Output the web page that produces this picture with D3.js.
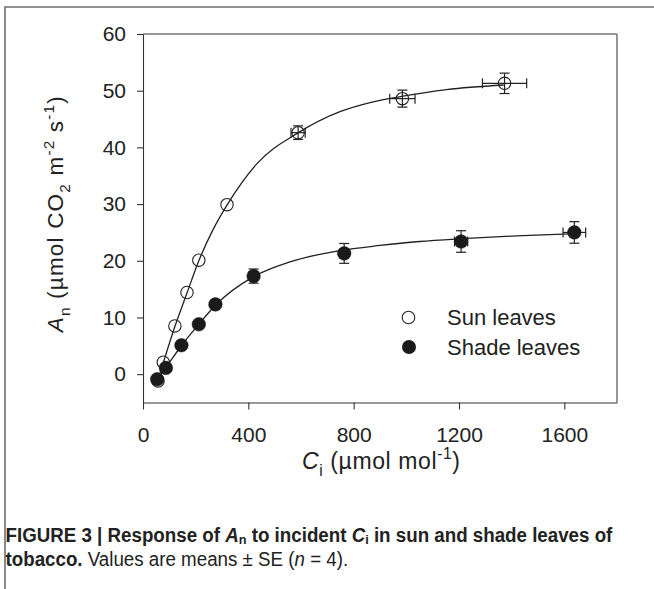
<!DOCTYPE html>
<html>
<head>
<meta charset="utf-8">
<script src="https://cdn.jsdelivr.net/npm/d3@7"></script>
<style>
  html, body { margin: 0; padding: 0; background: #fff; }
  svg { display: block; }
  text { font-family: "Liberation Sans", Arial, sans-serif; fill: #222; }
</style>
</head>
<body>
<script>
// Sun leaves: intercellular CO2 (Ci) and net assimilation (An), means with SE
const sunCi    = [57, 77, 121, 167, 212, 319, 589, 985, 1373];
const sunAn    = [-1.2, 2.1, 8.5, 14.4, 20.1, 29.9, 42.6, 48.6, 51.3];
const sunCiSE  = [0, 0, 0, 0, 0, 0, 27, 48, 84];
const sunAnSE  = [0, 0, 0, 0, 0, 0, 1.2, 1.5, 1.8];

// Shade leaves
const shadeCi   = [54, 87, 146, 212, 275, 420, 764, 1208, 1638];
const shadeAn   = [-0.9, 1.1, 5.1, 8.8, 12.3, 17.3, 21.3, 23.4, 25.0];
const shadeCiSE = [0, 0, 0, 0, 0, 10, 15, 25, 43];
const shadeAnSE = [0, 0, 0, 0, 0, 1.25, 1.75, 1.9, 1.9];

// Fitted response curves
const sunFitCi   = [57, 77, 121, 167, 212, 265, 320, 432, 590, 748, 870, 982, 1153, 1370];
const sunFitAn   = [-1.0, 2.0, 8.4, 14.3, 20.0, 25.4, 29.9, 37.1, 42.6, 46.3, 48.0, 49.0, 50.2, 51.0];
const shadeFitCi = [55, 86, 147, 210, 276, 420, 558, 748, 900, 1050, 1213, 1419, 1644];
const shadeFitAn = [-0.9, 1.1, 5.1, 8.7, 12.2, 17.2, 19.8, 21.8, 22.7, 23.4, 23.9, 24.4, 24.8];

// Axis ticks and labels
const xTicks = [0, 400, 800, 1200, 1600];
const yTicks = [0, 10, 20, 30, 40, 50, 60];
const legendLabels = ["Sun leaves", "Shade leaves"];

const W = 654, H = 589;
const svg = d3.select("body").append("svg")
  .attr("width", W).attr("height", H)
  .attr("viewBox", `0 0 ${W} ${H}`);

svg.append("rect").attr("width", W).attr("height", H).attr("fill", "#fff");

// Page frame around the figure
svg.append("path")
  .attr("d", `M5,${H} L5,7 L${W},7`)
  .attr("fill", "none").attr("stroke", "#6e6e6e").attr("stroke-width", 1.6);

const plot = { left: 143, right: 617, top: 34, bottom: 402.5 };
const x = d3.scaleLinear().domain([0, 1800]).range([plot.left, plot.right]);
const y = d3.scaleLinear().domain([-5, 60]).range([plot.bottom, plot.top]);

// Plot box: top and right edges
svg.append("line")
  .attr("x1", plot.left).attr("x2", plot.right)
  .attr("y1", plot.top).attr("y2", plot.top)
  .attr("stroke", "#333").attr("stroke-width", 1.1);
svg.append("line")
  .attr("x1", plot.right).attr("x2", plot.right)
  .attr("y1", plot.top).attr("y2", plot.bottom)
  .attr("stroke", "#7a7a7a").attr("stroke-width", 1.6);

// Axes
const xAxis = svg.append("g")
  .attr("transform", `translate(0,${plot.bottom})`)
  .call(d3.axisBottom(x).tickValues(xTicks).tickFormat(d3.format("d"))
    .tickSize(7).tickPadding(18).tickSizeOuter(0));
const yAxis = svg.append("g")
  .attr("transform", `translate(${plot.left},0)`)
  .call(d3.axisLeft(y).tickValues(yTicks).tickFormat(d3.format("d"))
    .tickSize(6).tickPadding(11).tickSizeOuter(0));

[xAxis, yAxis].forEach(g => {
  g.select(".domain").attr("stroke", "#333").attr("stroke-width", 1.1);
  g.selectAll(".tick line").attr("stroke", "#333").attr("stroke-width", 1.1);
  g.selectAll(".tick text")
    .attr("fill", "#222")
    .style("font-family", '"Liberation Sans", Arial, sans-serif')
    .style("font-size", "21px");
});

// Rich text helper: segments with italic / bold / sub / sup parts
function richText(sel, segs, size, subShift = 0.3) {
  let shift = 0;
  segs.forEach(s => {
    const ts = sel.append("tspan").text(s.t);
    if (s.i) ts.style("font-style", "italic");
    if (s.b) ts.style("font-weight", "bold");
    let target = 0;
    if (s.sub) target = size * subShift;
    if (s.sup) target = -size * 0.42;
    if (target !== shift) { ts.attr("dy", target - shift); shift = target; }
    if (s.sub || s.sup) ts.style("font-size", (size * 0.68) + "px");
  });
}

// Axis titles
const yTitle = svg.append("text")
  .attr("transform", `translate(63,${(plot.top + plot.bottom) / 2 - 4}) rotate(-90)`)
  .attr("text-anchor", "middle")
  .attr("textLength", 236).attr("lengthAdjust", "spacing")
  .style("font-size", "22.5px");
richText(yTitle, [
  { t: "A", i: true }, { t: "n", sub: true }, { t: " (µmol CO" }, { t: "2", sub: true },
  { t: " m" }, { t: "-2", sup: true }, { t: " s" }, { t: "-1", sup: true }, { t: ")" }
], 22.5);

const xTitle = svg.append("text")
  .attr("x", (plot.left + plot.right) / 2 + 1).attr("y", 469)
  .attr("text-anchor", "middle")
  .attr("textLength", 158).attr("lengthAdjust", "spacing")
  .style("font-size", "23px");
richText(xTitle, [
  { t: "C", i: true }, { t: "i", sub: true }, { t: " (µmol mol" }, { t: "-1", sup: true }, { t: ")" }
], 23);

// Fitted curves
const line = d3.line().x(d => x(d[0])).y(d => y(d[1])).curve(d3.curveMonotoneX);
svg.append("path")
  .attr("d", line(d3.zip(sunFitCi, sunFitAn)))
  .attr("fill", "none").attr("stroke", "#222").attr("stroke-width", 1.3);
svg.append("path")
  .attr("d", line(d3.zip(shadeFitCi, shadeFitAn)))
  .attr("fill", "none").attr("stroke", "#222").attr("stroke-width", 1.3);

// Error bars with caps
function errorBars(ci, an, ciSE, anSE) {
  const g = svg.append("g").attr("stroke", "#222").attr("stroke-width", 1.2).attr("fill", "none");
  const cap = 5;
  ci.forEach((c, k) => {
    const cx = x(c), cy = y(an[k]);
    if (anSE[k] > 0) {
      const y1 = y(an[k] + anSE[k]), y2 = y(an[k] - anSE[k]);
      g.append("line").attr("x1", cx).attr("x2", cx).attr("y1", y1).attr("y2", y2);
      g.append("line").attr("x1", cx - cap).attr("x2", cx + cap).attr("y1", y1).attr("y2", y1);
      g.append("line").attr("x1", cx - cap).attr("x2", cx + cap).attr("y1", y2).attr("y2", y2);
    }
    if (ciSE[k] > 0) {
      const x1 = x(c - ciSE[k]), x2 = x(c + ciSE[k]);
      g.append("line").attr("x1", x1).attr("x2", x2).attr("y1", cy).attr("y2", cy);
      g.append("line").attr("x1", x1).attr("x2", x1).attr("y1", cy - cap).attr("y2", cy + cap);
      g.append("line").attr("x1", x2).attr("x2", x2).attr("y1", cy - cap).attr("y2", cy + cap);
    }
  });
}
errorBars(sunCi, sunAn, sunCiSE, sunAnSE);
errorBars(shadeCi, shadeAn, shadeCiSE, shadeAnSE);

// Markers
svg.append("g").selectAll("circle")
  .data(d3.zip(sunCi, sunAn)).join("circle")
  .attr("cx", d => x(d[0])).attr("cy", d => y(d[1])).attr("r", 6.2)
  .attr("fill", "none").attr("stroke", "#222").attr("stroke-width", 1.1);
svg.append("g").selectAll("circle")
  .data(d3.zip(shadeCi, shadeAn)).join("circle")
  .attr("cx", d => x(d[0])).attr("cy", d => y(d[1])).attr("r", 6.8)
  .attr("fill", "#1a1a1a").attr("stroke", "#1a1a1a").attr("stroke-width", 0.5);

// Legend
const legend = svg.append("g");
legend.append("circle").attr("cx", 408.5).attr("cy", 317.5).attr("r", 6.3)
  .attr("fill", "#fff").attr("stroke", "#222").attr("stroke-width", 1.1);
legend.append("circle").attr("cx", 409).attr("cy", 347).attr("r", 7)
  .attr("fill", "#1a1a1a");
legend.selectAll("text").data(legendLabels).join("text")
  .attr("x", 447).attr("y", (d, k) => 325 + k * 29.5)
  .style("font-size", "22px")
  .text(d => d);

// Caption (condensed by horizontal scaling to the column width)
const capG = svg.append("g");
const cap1 = capG.append("text").attr("x", 0).attr("y", 0)
  .style("font-size", "20px").style("font-weight", "bold").attr("fill", "#1a1a1a");
richText(cap1, [
  { t: "FIGURE 3 | Response of " }, { t: "A", i: true }, { t: "n", sub: true },
  { t: " to incident " }, { t: "C", i: true }, { t: "i", sub: true },
  { t: " in sun and shade leaves of" }
], 20, 0.12);
const cap2 = capG.append("text").attr("x", 0).attr("y", 24.5)
  .style("font-size", "20px").attr("fill", "#1a1a1a");
richText(cap2, [
  { t: "tobacco.", b: true }, { t: " Values are means ± SE (" }, { t: "n", i: true }, { t: " = 4)." }
], 20);
const w1 = cap1.node().getComputedTextLength();
const sx = 607 / w1;
capG.attr("transform", `translate(5.5,542) scale(${sx},1)`);
</script>
</body>
</html>
